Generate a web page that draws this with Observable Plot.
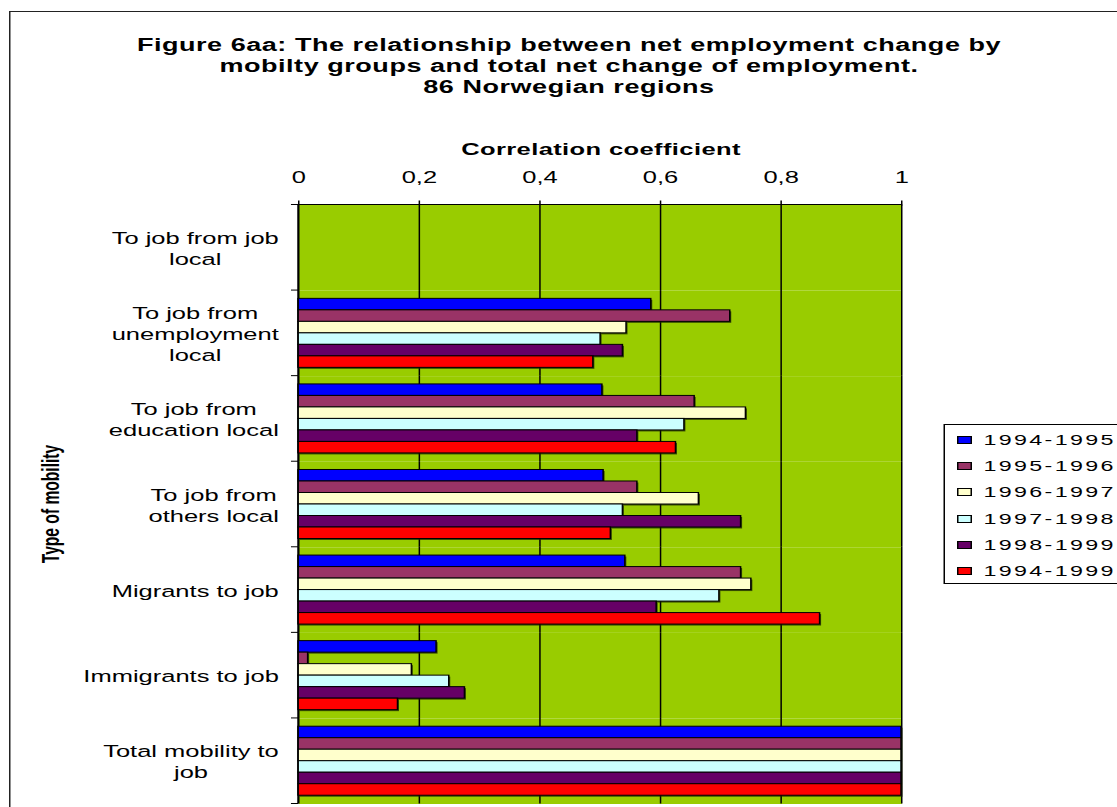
<!DOCTYPE html>
<html>
<head>
<meta charset="utf-8">
<script src="https://cdn.jsdelivr.net/npm/d3@7"></script>
<script src="https://cdn.jsdelivr.net/npm/@observablehq/plot@0.6"></script>
<style>
html, body { margin: 0; padding: 0; background: #fff; overflow: hidden; width: 1117px; height: 807px; }
#wrap { position: absolute; left: 0; top: 0; width: 744.667px; height: 807px; transform: scaleX(1.5); transform-origin: 0 0;
        font-family: "Liberation Sans", Arial, sans-serif; color: #000; }
#border { position: absolute; left: 6px; top: 11px; width: 800px; height: 900px; border-left: 1.3px solid #222; border-top: 1.5px solid #222; }
.tline { position: absolute; left: 0; width: 758.67px; text-align: center; font-weight: bold; font-size: 18px; line-height: 21px; white-space: nowrap; }
#xlabel { position: absolute; left: 0; width: 801.33px; text-align: center; font-weight: bold; font-size: 17px; line-height: 21px; white-space: nowrap; top: 138.5px; }
#ylabel { position: absolute; left: 34px; top: 504px; transform: translate(-50%, -50%) rotate(-90deg); font-weight: bold; font-size: 15.6px; white-space: nowrap; }
#chart { position: absolute; left: 0; top: 130px; line-height: 0; }
#chart svg { display: block; }
#legend { position: absolute; left: 629.3px; top: 424px; width: 130px; height: 160px; box-sizing: border-box; border: 1px solid #000; background: #fff; }
.lrow { position: absolute; left: 0; height: 20px; line-height: 20px; font-size: 15.5px; white-space: nowrap; }
.lsw { position: absolute; left: 7.3px; top: 6px; width: 10.7px; height: 8px; box-sizing: border-box; border: 1px solid #000; }
.ltx { position: absolute; left: 25.4px; top: 0; }
</style>
</head>
<body>
<div id="wrap">
  <div id="border"></div>
  <div class="tline" style="top:34.5px"><span>Figure 6aa: The relationship between net employment change by</span></div>
  <div class="tline" style="top:55.5px"><span>mobilty groups and total net change of employment.</span></div>
  <div class="tline" style="top:76.5px"><span>86 Norwegian regions</span></div>
  <div id="xlabel"><span>Correlation coefficient</span></div>
  <div id="ylabel">Type of mobility</div>
  <div id="chart"></div>
  <div id="legend"></div>
</div>
<script>
// ---- data ----
const categories = [
  "To job from job local",
  "To job from unemployment local",
  "To job from education local",
  "To job from others local",
  "Migrants to job",
  "Immigrants to job",
  "Total mobility to job"
];
const categoryLabels = [
  "To job from job\nlocal",
  "To job from\nunemployment\nlocal",
  "To job from\neducation local",
  "To job from\nothers local",
  "Migrants to job",
  "Immigrants to job",
  "Total mobility to\njob"
];
const series = ["1994-1995", "1995-1996", "1996-1997", "1997-1998", "1998-1999", "1994-1999"];
const seriesColors = ["#0000FF", "#993366", "#FFFFCC", "#CCFFFF", "#660066", "#FF0000"];
const v1994_1995 = [null, 0.585, 0.504, 0.506, 0.542, 0.229, 1];
const v1995_1996 = [null, 0.716, 0.657, 0.562, 0.734, 0.016, 1];
const v1996_1997 = [null, 0.544, 0.742, 0.664, 0.751, 0.188, 1];
const v1997_1998 = [null, 0.501, 0.640, 0.538, 0.698, 0.250, 1];
const v1998_1999 = [null, 0.538, 0.562, 0.734, 0.594, 0.276, 1];
const v1994_1999 = [null, 0.489, 0.626, 0.518, 0.865, 0.165, 1];
const xTicks = [0, 0.2, 0.4, 0.6, 0.8, 1];
const xTickLabels = ["0", "0,2", "0,4", "0,6", "0,8", "1"];

const seriesValues = [v1994_1995, v1995_1996, v1996_1997, v1997_1998, v1998_1999, v1994_1999];
const data = [];
categories.forEach((c, ci) => series.forEach((s, si) => {
  const v = seriesValues[si][ci];
  if (v != null) data.push({category: c, series: s, value: v});
}));
const labelData = categories.map((c, i) => ({category: c, label: categoryLabels[i]}));

const plot = Plot.plot({
  width: 620,
  height: 677,
  marginLeft: 198.667,
  marginRight: 19.333,
  marginTop: 74.5,
  marginBottom: 3.5,
  style: {fontFamily: "'Liberation Sans', Arial, sans-serif", fontSize: "17px", color: "#000", background: "transparent", overflow: "visible"},
  x: {domain: [0, 1], axis: "top", ticks: xTicks, tickFormat: d => xTickLabels[xTicks.indexOf(d)], tickSize: 5, tickPadding: 17, label: null},
  y: {domain: series, paddingInner: 0, paddingOuter: 0.72, round: false, axis: null},
  fy: {domain: categories, padding: 0, round: false, axis: null},
  color: {domain: series, range: seriesColors},
  marks: [
    Plot.frame({fill: "#99CC00", stroke: "none"}),
    Plot.ruleX(xTicks, {stroke: "#000", strokeWidth: 1}),
    Plot.barX(data, {fy: "category", y: "series", x: "value", fill: "#1a2600", fillOpacity: 0.75, dx: 1, dy: 1.5}),
    Plot.barX(data, {fy: "category", y: "series", x: "value", fill: "series", stroke: "#000", strokeWidth: 1}),
    Plot.text(labelData, {fy: "category", text: "label", frameAnchor: "left", textAnchor: "end", dx: -13.3, lineHeight: 1.24})
  ]
});
document.getElementById("chart").appendChild(plot);

// tick marks at the category boundaries and the top axis line, from the library's scales
const fyS = plot.scale("fy"), xS = plot.scale("x");
const fyBand = fyS.apply ? (c => fyS.apply(c)) : d3.scaleBand().domain(fyS.domain).range(fyS.range).padding(0);
const bw = fyS.bandwidth;
const x0 = xS.apply(0), x1 = xS.apply(1);
const bounds = categories.map(c => fyBand(c));
bounds.push(fyBand(categories[categories.length - 1]) + bw);
const g = d3.select(plot).append("g").attr("stroke", "#000").attr("stroke-width", 1);
bounds.forEach(y => g.append("line").attr("x1", x0 - 4.7).attr("x2", x0).attr("y1", y).attr("y2", y));
g.append("line").attr("x1", x0).attr("x2", x1).attr("y1", bounds[0]).attr("y2", bounds[0]);
g.append("line").attr("x1", x0).attr("x2", x0).attr("y1", bounds[0]).attr("y2", bounds[bounds.length - 1]);

// center multi-line category labels inside a right-aligned block
d3.select(plot).selectAll('g[aria-label="text"] text').each(function() {
  const tspans = this.querySelectorAll("tspan");
  if (tspans.length < 2) return;
  let max = 0;
  tspans.forEach(t => { max = Math.max(max, t.getComputedTextLength()); });
  this.setAttribute("text-anchor", "middle");
  tspans.forEach(t => t.setAttribute("x", -max / 2));
});

// legend
const legend = document.getElementById("legend");
series.forEach((s, i) => {
  const row = document.createElement("div");
  row.className = "lrow";
  row.style.top = (5 + i * 26.2) + "px";
  const sw = document.createElement("div");
  sw.className = "lsw";
  sw.style.background = seriesColors[i];
  const tx = document.createElement("span");
  tx.className = "ltx";
  tx.textContent = s;
  row.appendChild(sw); row.appendChild(tx);
  legend.appendChild(row);
});

function fit(el, target) {
  const n = el.textContent.length;
  const w = el.offsetWidth;
  return (target - w) / n;
}
const tspans = document.querySelectorAll(".tline span");
const lsT = fit(tspans[0], 576);
tspans.forEach(s => s.style.letterSpacing = lsT + "px");
const xl = document.querySelector("#xlabel span");
xl.style.letterSpacing = fit(xl, 186) + "px";
const ltx = document.querySelectorAll(".ltx");
const lsL = fit(ltx[0], 88);
ltx.forEach(s => s.style.letterSpacing = lsL + "px");
</script>
</body>
</html>
